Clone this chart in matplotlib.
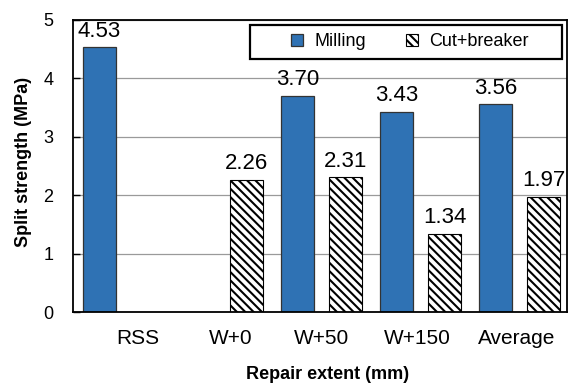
import matplotlib.pyplot as plt
import numpy as np
from matplotlib.patches import Rectangle
from matplotlib.transforms import ScaledTranslation

plt.rcParams['font.family'] = ['Liberation Sans', 'DejaVu Sans']
plt.rcParams['hatch.linewidth'] = 1.5

# split strength per repair extent
categories = ['RSS', 'W+0', 'W+50', 'W+150', 'Average']
milling = [4.53, np.nan, 3.70, 3.43, 3.56]
cut_breaker = [np.nan, 2.26, 2.31, 1.34, 1.97]

x = np.arange(len(categories))
w = 0.335
off = 0.243

fig = plt.figure(figsize=(5.69, 3.86), dpi=100)
ax = fig.add_axes([0.1283, 0.1917, 0.8682, 0.7565])

ax.yaxis.grid(True, color='#9a9a9a', linewidth=0.9)
ax.set_axisbelow(True)

b1 = ax.bar(x - off, milling, w, color='#2f72b4', edgecolor='#333333',
            linewidth=0.9, label='Milling')
b2 = ax.bar(x + off, cut_breaker, w, color='white', edgecolor='black',
            hatch='\\\\\\\\', linewidth=0.8, label='Cut+breaker')

# value labels above each bar
for xs, vals in ((x - off, milling), (x + off, cut_breaker)):
    for xi, v in zip(xs, vals):
        if np.isnan(v):
            continue
        ax.annotate(f'{v:.2f}', (xi, v), xytext=(0, 4), textcoords='offset points',
                    ha='center', va='bottom', fontsize=16)

ax.set_xlim(-0.51, 4.48)
ax.set_ylim(0, 5)
ax.set_yticks([0, 1, 2, 3, 4, 5])
ax.set_xticks(x)
ax.set_xticklabels(categories, fontsize=15)
ax.tick_params(axis='x', length=0, pad=12)
ax.tick_params(axis='y', direction='in', length=5, width=1, labelsize=13, pad=14)

# nudge the first category labels slightly right
nudges = [10, 6, 0, -2, -2]
for lab, dx in zip(ax.get_xticklabels(), nudges):
    lab.set_transform(lab.get_transform() + ScaledTranslation(dx / 72, 0, fig.dpi_scale_trans))

for s in ax.spines.values():
    s.set_linewidth(1.3)
    s.set_color('black')

ax.set_ylabel('Split strength (MPa)', fontsize=13, fontweight='bold')
ax.set_xlabel('Repair extent (mm)', fontsize=13, fontweight='bold')
ax.yaxis.set_label_coords(-0.083, 0.515)
ax.xaxis.set_label_coords(0.516, -0.185)

# legend box drawn separately so the entries can sit off-centre
ax.add_patch(Rectangle((0.358, 0.866), 0.632, 0.117, transform=ax.transAxes,
                       facecolor='white', edgecolor='black', linewidth=1.6, zorder=4))
leg = ax.legend(handles=[b1, b2], ncol=2, frameon=False, loc='center left',
                bbox_to_anchor=(0.441, 0.925), borderpad=0, borderaxespad=0,
                fontsize=13, handlelength=0.7, handleheight=0.7,
                handletextpad=0.6, columnspacing=2.2)
leg.set_zorder(5)

fig.savefig('out.png', dpi=100)
